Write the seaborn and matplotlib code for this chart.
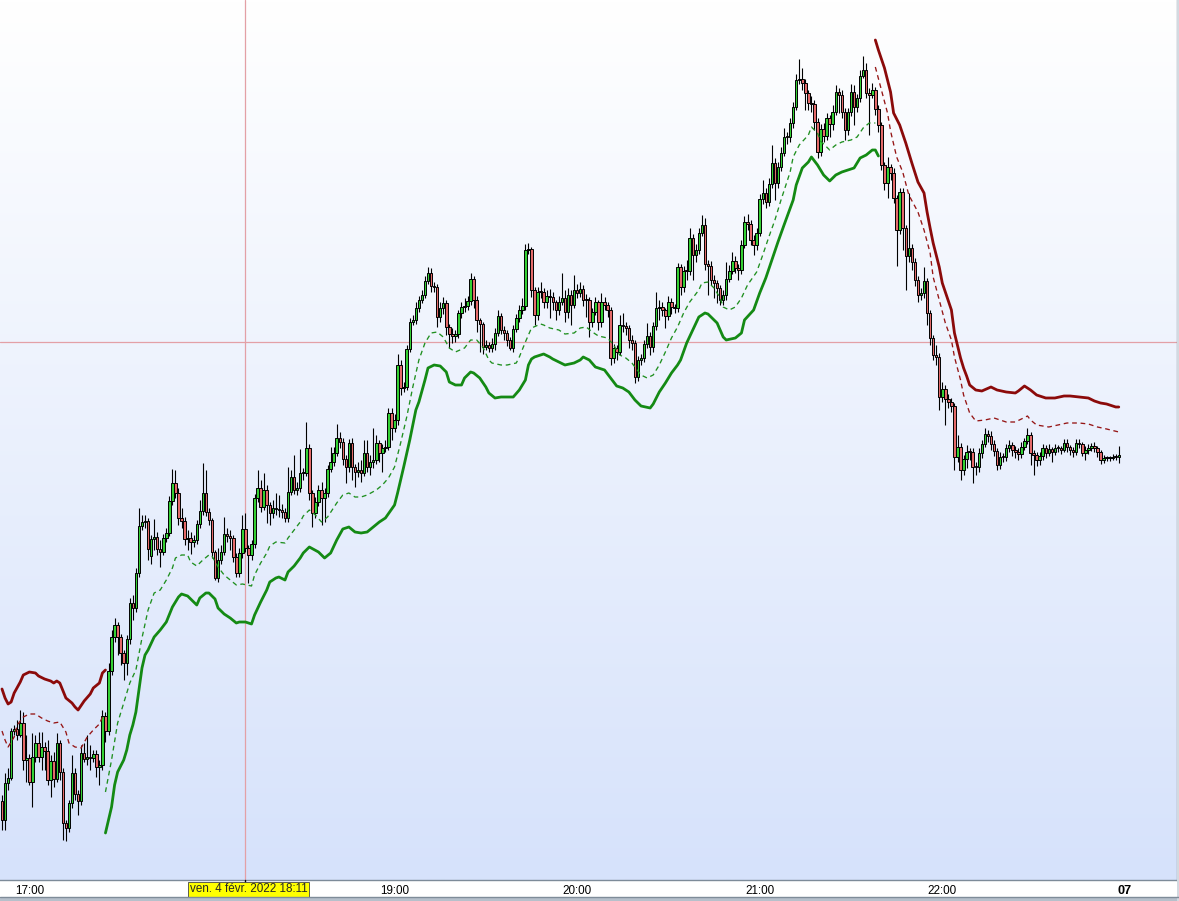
import numpy as np
import matplotlib
matplotlib.use("Agg")
import matplotlib.pyplot as plt
from matplotlib.transforms import blended_transform_factory
from matplotlib.patches import Rectangle
from matplotlib.lines import Line2D
import seaborn as sns

sns.set_style("white")
plt.rcParams['font.family'] = ['Liberation Sans', 'DejaVu Sans']

# ---------------- data (1-minute candles from 16:51) ----------------
first_candle = (16, 51)

open_p = [
79,60,97,102,149,151,145,157,120,122,
98,123,137,123,133,129,100,119,101,137,
108,57,52,77,107,86,79,127,121,123,
122,126,113,115,164,149,209,243,255,243,
227,217,241,277,272,307,354,358,359,324,
341,343,331,328,342,347,379,397,387,362,
359,341,342,338,340,356,369,387,368,360,
328,302,320,328,346,344,342,323,307,327,
351,332,325,336,382,392,373,390,375,367,
372,371,370,368,362,388,403,390,392,407,
407,432,387,367,378,390,382,387,411,418,
427,442,438,421,413,437,413,408,410,407,
427,413,418,420,437,427,432,433,467,452,
460,515,492,493,531,558,560,572,580,585,
599,607,594,593,563,572,577,553,546,544,
546,567,573,574,579,601,580,560,556,533,
535,532,536,547,564,550,547,540,532,551,
562,570,574,630,631,590,565,588,588,578,
584,583,578,570,578,582,568,585,575,590,
587,591,580,580,558,568,578,558,578,575,
570,522,532,528,555,554,552,540,537,503,
520,522,536,544,533,554,572,573,570,564,
578,573,572,613,593,609,609,642,625,630,
647,655,616,614,600,597,592,580,585,601,
609,619,612,610,635,658,656,640,635,647,
681,687,678,696,717,697,713,727,743,743,
757,773,800,801,797,787,777,776,758,728,
751,744,762,756,768,788,785,768,750,768,
788,773,782,804,810,787,785,790,771,755,
715,697,713,707,682,650,688,652,624,632,
618,600,585,587,599,567,542,525,523,483,
491,481,478,474,423,433,410,421,428,428,
413,413,427,436,446,444,436,429,415,423,
423,432,435,430,428,426,433,439,445,427,
425,420,424,432,427,431,428,432,432,430,
437,433,430,428,437,436,427,430,432,434,
432,428,420,422,422,422,423,423]

close_p = [
60,97,102,149,151,145,157,120,122,98,
123,137,123,133,129,100,119,101,137,108,
57,52,77,107,86,79,127,121,123,122,
126,113,115,164,149,209,243,255,243,227,
217,241,277,272,307,354,358,359,331,341,
343,331,328,342,347,379,397,387,362,359,
341,342,338,340,356,369,387,368,360,328,
302,320,328,346,344,342,323,307,327,351,
332,325,336,382,392,373,390,375,367,372,
371,370,368,362,388,403,390,392,407,407,
432,387,367,378,390,382,387,411,418,427,
442,438,421,413,437,413,408,410,407,427,
413,418,420,437,427,432,433,467,452,460,
515,492,493,531,558,560,572,580,585,599,
607,594,593,563,572,577,553,546,544,546,
567,573,574,579,601,580,560,556,533,535,
532,536,547,564,550,547,540,532,551,562,
570,574,630,631,590,565,588,588,578,584,
583,578,570,578,582,568,585,575,590,587,
591,580,580,558,568,578,558,578,575,570,
522,532,528,555,554,552,540,537,503,520,
522,536,544,533,554,572,573,570,564,578,
573,572,613,593,609,609,642,625,630,647,
655,616,614,600,597,592,580,585,601,609,
619,612,610,635,658,656,640,635,647,681,
687,678,696,717,697,713,727,743,743,757,
773,800,801,797,787,777,776,758,728,751,
744,762,756,768,788,785,768,750,768,788,
773,782,804,810,787,785,790,771,755,715,
697,713,707,682,650,688,652,624,632,618,
600,585,587,599,567,542,525,523,483,491,
481,478,474,423,433,410,421,428,428,413,
413,427,436,446,444,436,429,415,423,423,
432,435,430,428,426,433,439,445,427,425,
420,424,432,427,431,428,432,432,430,437,
433,430,428,437,436,427,430,432,434,432,
428,420,422,422,422,423,423,425]

high_p = [
85,107,112,152,155,160,170,168,145,126,
147,145,148,148,138,140,125,128,147,140,
112,60,80,125,112,90,135,137,145,135,
130,130,120,170,168,217,250,262,258,246,
230,245,282,285,312,372,365,365,362,345,
361,348,340,346,352,384,411,410,392,372,
363,350,348,345,360,380,417,410,372,362,
330,332,335,363,352,350,345,327,332,365,
367,335,340,386,410,400,407,395,378,380,
387,385,376,372,413,410,425,398,431,412,
458,436,390,383,395,398,392,415,433,433,
456,448,442,425,441,442,416,418,420,440,
440,425,452,445,440,436,440,472,472,466,
526,520,498,535,562,565,578,584,590,604,
613,612,598,596,578,583,580,556,552,550,
570,578,582,584,607,604,584,562,558,540,
538,542,552,570,567,554,550,543,555,566,
575,582,636,637,633,593,593,598,592,590,
591,588,580,584,607,590,592,590,605,596,
598,595,586,583,572,583,580,587,583,578,
573,536,535,565,567,558,555,545,540,524,
526,540,557,548,558,588,580,578,572,584,
582,576,617,616,614,620,652,646,636,652,
665,662,620,619,605,600,595,590,618,615,
628,624,616,640,664,666,660,645,652,686,
700,692,702,735,722,718,733,752,748,762,
778,806,821,812,801,790,784,780,762,756,
757,767,765,775,795,792,790,772,772,796,
795,786,810,824,817,792,797,793,775,758,
718,723,716,712,685,692,692,655,687,636,
622,604,592,613,602,570,545,535,527,498,
495,486,482,477,445,437,425,435,432,432,
418,432,440,452,450,449,440,432,428,427,
436,440,438,434,432,438,442,452,448,430,
428,428,436,435,436,433,436,435,434,441,
441,435,433,441,441,438,434,436,437,438,
434,430,425,424,424,426,426,434]

low_p = [
50,50,90,100,145,140,143,110,98,95,
73,118,118,110,110,95,83,93,98,100,
40,39,48,72,80,65,75,118,115,110,
118,103,95,110,138,145,205,238,225,215,
200,205,236,260,268,303,350,352,320,316,
330,325,313,325,338,344,375,382,355,352,
335,330,326,333,336,352,365,364,355,322,
300,298,316,325,338,330,318,303,303,322,
328,297,320,332,378,368,370,357,355,362,
365,363,362,358,358,385,386,385,388,400,
404,380,353,362,374,355,358,383,408,414,
424,432,415,397,408,400,393,403,398,404,
408,405,412,416,418,408,428,430,440,448,
455,485,488,490,528,555,556,568,577,582,
596,588,588,553,558,566,545,532,537,538,
542,562,568,570,575,572,548,528,526,530,
528,528,530,544,546,540,534,530,528,548,
558,566,570,626,583,555,560,582,572,572,
562,570,560,565,575,558,562,555,572,582,
583,574,563,543,553,565,550,553,570,563,
515,517,520,525,548,545,532,530,497,499,
515,518,532,525,528,550,560,564,552,560,
566,567,568,585,588,600,605,600,618,626,
644,610,585,595,582,577,575,575,580,598,
606,607,600,606,632,650,635,625,630,644,
676,672,674,692,680,692,709,724,736,738,
752,770,796,790,770,770,768,750,722,724,
738,740,743,750,765,767,762,740,745,764,
755,768,778,802,782,745,782,765,748,710,
690,682,700,677,614,646,630,590,618,610,
594,578,580,582,555,535,520,515,470,478,
455,472,468,410,418,400,405,412,420,397,
405,408,422,433,438,430,424,410,411,418,
419,428,424,422,420,422,430,436,415,405,
414,415,420,422,424,418,425,428,426,428,
428,425,423,425,432,424,420,426,429,428,
423,416,417,419,419,420,420,417]

# indicator bands: (candle index, value)
green_line = [(34,47),(35,60),(36,73),(37,95),(38,108),(40,120),(41,130),(42,145),(43,155),(44,168),(45,190),(46,212),(47,225),(48,230),(50,243),(52,250),(54,258),(56,273),(58,283),(59,286),(61,284),(63,278),(64,275),(65,282),(67,287),(68,287),(70,281),(71,272),(73,266),(75,262),(77,257),(78,258),(80,258),(82,256),(83,265),(85,278),(87,290),(88,298),(90,302),(91,303),(93,300),(94,308),(96,314),(98,322),(99,327),(101,333),(104,328),(106,322),(108,327),(110,340),(112,351),(114,353),(116,348),(118,347),(120,348),(122,353),(124,358),(126,362),(129,375),(130,387),(132,413),(134,440),(136,470),(137,478),(139,500),(140,512),(142,515),(144,514),(146,508),(147,498),(149,495),(151,495),(152,502),(154,508),(155,507),(157,502),(159,493),(160,487),(162,482),(164,483),(166,483),(168,483),(170,490),(172,500),(173,515),(174,521),(175,523),(177,525),(178,526),(180,523),(181,521),(183,518),(185,515),(188,517),(190,520),(191,523),(193,520),(195,513),(198,510),(200,502),(202,494),(204,492),(206,488),(208,480),(210,474),(213,472),(214,476),(216,488),(218,497),(220,507),(222,515),(223,520),(225,537),(227,550),(229,563),(231,567),(232,566),(235,557),(237,543),(238,540),(241,542),(243,547),(244,560),(247,570),(249,587),(251,602),(253,620),(255,638),(257,655),(260,680),(261,695),(263,712),(265,718),(266,723),(268,715),(270,705),(272,699),(274,705),(276,708),(278,710),(280,712),(282,722),(284,725),(286,730),(287,730),(288,724)]

green_dash = [(34,88),(36,120),(38,157),(40,177),(42,197),(44,210),(46,242),(48,270),(50,287),(52,290),(54,300),(56,312),(57,322),(59,325),(61,325),(62,318),(64,314),(66,320),(68,325),(69,324),(71,313),(73,305),(75,300),(77,295),(79,296),(82,294),(83,305),(85,317),(87,327),(88,334),(90,338),(93,337),(94,342),(96,350),(98,358),(99,364),(101,370),(103,365),(105,358),(107,363),(110,377),(112,385),(114,387),(116,383),(118,383),(120,385),(123,390),(125,395),(127,402),(129,413),(131,437),(133,463),(135,493),(137,520),(139,537),(141,547),(143,548),(145,543),(147,532),(149,528),(152,532),(154,540),(156,540),(158,533),(160,520),(161,517),(164,515),(166,515),(169,517),(170,523),(172,538),(174,552),(177,556),(178,555),(180,552),(183,550),(185,546),(188,547),(190,552),(192,553),(194,548),(196,544),(199,542),(201,535),(203,525),(205,522),(207,517),(210,505),(212,502),(214,505),(216,515),(218,528),(220,542),(222,553),(224,567),(226,578),(229,590),(230,597),(232,598),(234,592),(236,582),(237,573),(239,570),(241,573),(243,582),(245,595),(248,608),(250,625),(252,643),(254,660),(256,680),(259,708),(260,723),(262,735),(265,745),(266,753),(268,747),(269,739),(272,730),(274,735),(276,738),(279,740),(281,743),(283,752),(285,757),(287,757)]

red_line_1 = [(0,191),(1,182),(2,176),(3,178),(4,187),(6,198),(7,205),(9,208),(11,207),(12,204),(14,201),(16,199),(17,197),(18,199),(19,197),(21,182),(23,177),(24,173),(25,170),(27,179),(29,186),(30,192),(32,197),(33,207),(34,210)]
red_dash_1 = [(0,149),(1,140),(2,133),(4,143),(5,155),(7,163),(9,166),(11,166),(13,162),(15,159),(17,157),(19,158),(21,148),(22,137),(24,133),(26,132),(28,143),(30,150),(32,156),(33,163)]
red_line_2 = [(287,840),(288,830),(290,812),(292,788),(293,767),(295,755),(297,737),(299,717),(301,698),(303,687),(304,668),(305,652),(306,637),(308,613),(309,597),(312,570),(313,547),(315,522),(316,512),(317,504),(318,495),(320,490),(322,489),(325,493),(327,490),(330,488),(333,487),(334,489),(336,494),(338,490),(340,485),(343,482),(346,482),(349,484),(351,484),(354,483),(357,482),(359,479),(361,477),(363,476),(366,473),(367,473)]
red_dash_2 = [(287,813),(289,790),(291,767),(292,749),(294,723),(296,708),(298,685),(301,668),(303,650),(305,627),(306,603),(308,580),(310,557),(312,540),(313,523),(315,500),(316,485),(318,467),(320,459),(323,460),(326,462),(330,458),(333,458),(335,461),(337,464),(338,460),(340,455),(344,453),(347,455),(350,457),(354,457),(357,456),(360,453),(363,451),(367,448)]

hour_ticks = [17, 18, 19, 20, 21, 22, 23]
hour_labels = ["17:00", "18:00", "19:00", "20:00", "21:00", "22:00", "07"]
cross_time = (18, 11)
cross_price = 538
cross_label = "ven. 4 févr. 2022 18:11"

# ---------------- figure ----------------
W, H = 1179, 901
fig = plt.figure(figsize=(W / 100, H / 100), dpi=100, facecolor="white")
plot_w, plot_h = 1177, 880
ax = fig.add_axes([0, (H - plot_h) / H, plot_w / W, plot_h / H])
ax.set_autoscale_on(False)

# background gradient
top = np.array([1.0, 1.0, 1.0])
bot = np.array([214, 226, 251]) / 255
t = np.linspace(0, 1, 256)[:, None, None]
grad = top * (1 - t) + bot * t
ax.imshow(grad, extent=(0, 1, 0, 1), transform=ax.transAxes, aspect="auto",
          zorder=0, interpolation="bilinear")

def minute_index(hm):
    return (hm[0] * 60 + hm[1]) - (first_candle[0] * 60 + first_candle[1])

o = np.array(open_p, float)
c = np.array(close_p, float)
h = np.array(high_p, float)
l = np.array(low_p, float)
idx = np.arange(len(c))

cross_idx = minute_index(cross_time)
ax.axvline(cross_idx, color="#e3a0a6", lw=0.9, zorder=1.5)
ax.axhline(cross_price, color="#e3a0a6", lw=0.9, zorder=1.5)

# candles
ax.vlines(idx, l, h, colors="black", linewidth=0.8, zorder=3)
rising = c > o
body_low = np.minimum(o, c)
body_h = np.maximum(np.abs(c - o), 0.6)
face = np.where(rising, "#34d034", "#e46a6a")
ax.bar(idx, body_h, bottom=body_low, width=0.82, color=face,
       edgecolor="black", linewidth=0.7, zorder=4)

def band(pairs, color, lw, ls):
    xs = [p[0] for p in pairs]
    ys = [p[1] for p in pairs]
    sns.lineplot(x=xs, y=ys, ax=ax, color=color, linewidth=lw, linestyle=ls,
                 sort=False, estimator=None, legend=False, zorder=5)

dash = (0, (3.6, 2.8))
band(green_line, "#148a14", 2.0, "-")
band(green_dash, "#1f8f1f", 0.95, dash)
band(red_line_1, "#8b0a0a", 2.0, "-")
band(red_dash_1, "#951515", 0.95, dash)
band(red_line_2, "#8b0a0a", 2.0, "-")
band(red_dash_2, "#951515", 0.95, dash)

px_per_candle = 3.043
x_off = 2.0
ax.set_xlim(-x_off / px_per_candle, (plot_w - x_off) / px_per_candle)
ax.set_ylim(0, plot_h)

# axes styling
for side in ("top", "left"):
    ax.spines[side].set_visible(False)
ax.spines["bottom"].set_color("#7d8b99")
ax.spines["bottom"].set_linewidth(1.0)
ax.spines["right"].set_color("#8a96a3")
ax.spines["right"].set_linewidth(1.0)
ax.set_yticks([])
ax.set_xlabel("")
ax.set_ylabel("")
tick_idx = [minute_index((hh, 0)) for hh in hour_ticks]
ax.set_xticks(tick_idx)
ax.set_xticklabels(hour_labels)
ax.tick_params(axis="x", direction="out", length=3, width=0.8, color="#555555",
               pad=0.8, labelsize=8.4, labelcolor="black")
lbls = ax.get_xticklabels()
lbls[-1].set_fontweight("bold")
lbls[-1].set_fontsize(9.2)
# the hour label lying under the crosshair date label is covered by it
for pos, lb in zip(tick_idx, lbls):
    if abs(pos - cross_idx) < 25:
        lb.set_visible(False)

# date label for crosshair
trans = blended_transform_factory(ax.transData, ax.transAxes)
ax.add_line(Line2D([cross_idx, cross_idx], [0, -4 / plot_h], transform=trans,
                   color="black", lw=1.0, clip_on=False, zorder=9))
ax.text(cross_idx + 1.0, -9.5 / plot_h, cross_label,
        transform=trans, ha="center", va="center", fontsize=8.4, zorder=10,
        clip_on=False,
        bbox=dict(boxstyle="square,pad=0.15", facecolor="#ffff00",
                  edgecolor="#444444", linewidth=0.6))

# bottom frame band and right edge
fig.patches.append(Rectangle((0, 0), 1, 4 / H, transform=fig.transFigure,
                             facecolor="#b6c0cb", edgecolor="none", zorder=0))
fig.lines.append(Line2D([0, 1], [4 / H, 4 / H], transform=fig.transFigure,
                        color="#7f8c99", lw=1.0))
fig.patches.append(Rectangle((plot_w / W, 0), 1 - plot_w / W, 1,
                             transform=fig.transFigure, facecolor="#d3d9e0",
                             edgecolor="none", zorder=0))

fig.savefig("out.png", dpi=100, facecolor="white")
